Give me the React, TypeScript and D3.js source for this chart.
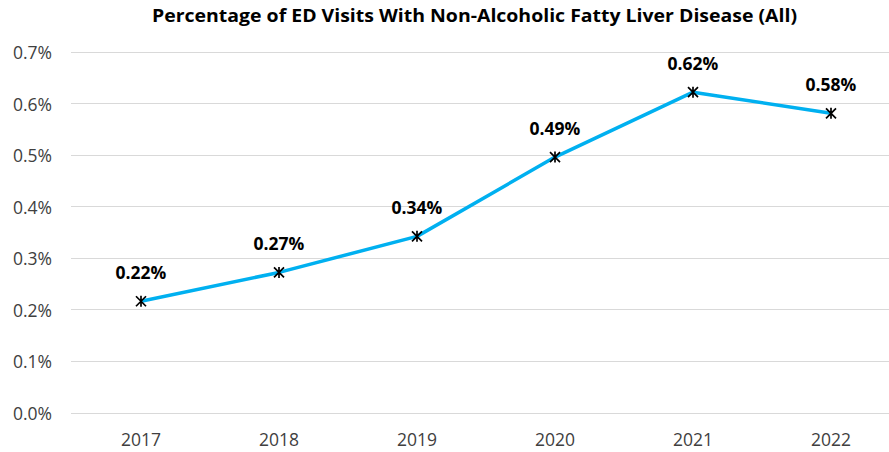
import React, { useEffect, useRef } from "react";
import * as d3 from "d3";

const years = ["2017", "2018", "2019", "2020", "2021", "2022"];
const values = [0.216, 0.272, 0.342, 0.496, 0.622, 0.581];
const valueLabels = ["0.22%", "0.27%", "0.34%", "0.49%", "0.62%", "0.58%"];
const yTicks = [0, 0.1, 0.2, 0.3, 0.4, 0.5, 0.6, 0.7];
const title = "Percentage of ED Visits With Non-Alcoholic Fatty Liver Disease (All)";

const App: React.FC = () => {
  const svgRef = useRef<SVGSVGElement | null>(null);

  useEffect(() => {
    if (!svgRef.current) return;
    const width = 889;
    const height = 452;
    const font = "'Open Sans', sans-serif";

    const svg = d3.select(svgRef.current);
    svg.selectAll("*").remove();
    svg.attr("width", width).attr("height", height);

    const x = d3.scaleBand<string>().domain(years).range([72, 900]);
    const y = d3.scaleLinear().domain([0, 0.7]).range([412.5, 52]);

    // title, stretched to the width it takes in the original
    svg.append("text")
      .attr("x", 474.5)
      .attr("y", 22)
      .attr("text-anchor", "middle")
      .attr("textLength", 645)
      .attr("lengthAdjust", "spacingAndGlyphs")
      .style("font-family", font)
      .style("font-size", "18.5px")
      .style("font-weight", "bold")
      .attr("fill", "#000")
      .text(title);

    // gridlines
    svg.append("g")
      .selectAll("line")
      .data(yTicks)
      .enter()
      .append("line")
      .attr("x1", 71)
      .attr("x2", 889)
      .attr("y1", d => Math.round(y(d)) + 0.5)
      .attr("y2", d => Math.round(y(d)) + 0.5)
      .attr("stroke", "#d9d9d9")
      .attr("stroke-width", 1);

    // y labels
    svg.append("g")
      .selectAll("text")
      .data(yTicks)
      .enter()
      .append("text")
      .attr("x", 52)
      .attr("y", d => y(d) + 7)
      .attr("text-anchor", "end")
      .style("font-family", font)
      .style("font-size", "17.5px")
      .attr("fill", "#404040")
      .text(d => `${d.toFixed(1)}%`);

    // x labels
    svg.append("g")
      .selectAll("text")
      .data(years)
      .enter()
      .append("text")
      .attr("x", d => (x(d) ?? 0) + x.bandwidth() / 2)
      .attr("y", 446)
      .attr("text-anchor", "middle")
      .style("font-family", font)
      .style("font-size", "17.5px")
      .attr("fill", "#404040")
      .text(d => d);

    const cx = (i: number) => (x(years[i]) ?? 0) + x.bandwidth() / 2;

    const line = d3.line<number>()
      .x((_, i) => cx(i))
      .y(d => y(d));

    svg.append("path")
      .datum(values)
      .attr("d", line)
      .attr("fill", "none")
      .attr("stroke", "#00b0f0")
      .attr("stroke-width", 3.5)
      .attr("stroke-linejoin", "round");

    // star markers
    const s = 5;
    svg.append("g")
      .selectAll("path")
      .data(values)
      .enter()
      .append("path")
      .attr("d", (d, i) => {
        const px = cx(i), py = y(d);
        return `M${px - s},${py - s}L${px + s},${py + s}M${px - s},${py + s}L${px + s},${py - s}M${px},${py - s - 0.5}L${px},${py + s + 0.5}`;
      })
      .attr("stroke", "#000")
      .attr("stroke-width", 1.7)
      .attr("fill", "none");

    // value labels
    svg.append("g")
      .selectAll("text")
      .data(values)
      .enter()
      .append("text")
      .attr("x", (_, i) => cx(i))
      .attr("y", d => y(d) - 22)
      .attr("text-anchor", "middle")
      .style("font-family", font)
      .style("font-size", "17.5px")
      .style("font-weight", "bold")
      .attr("fill", "#000")
      .text((_, i) => valueLabels[i]);
  }, []);

  return <svg ref={svgRef} style={{ position: "absolute", left: 0, top: 0 }}></svg>;
};

export default App;
